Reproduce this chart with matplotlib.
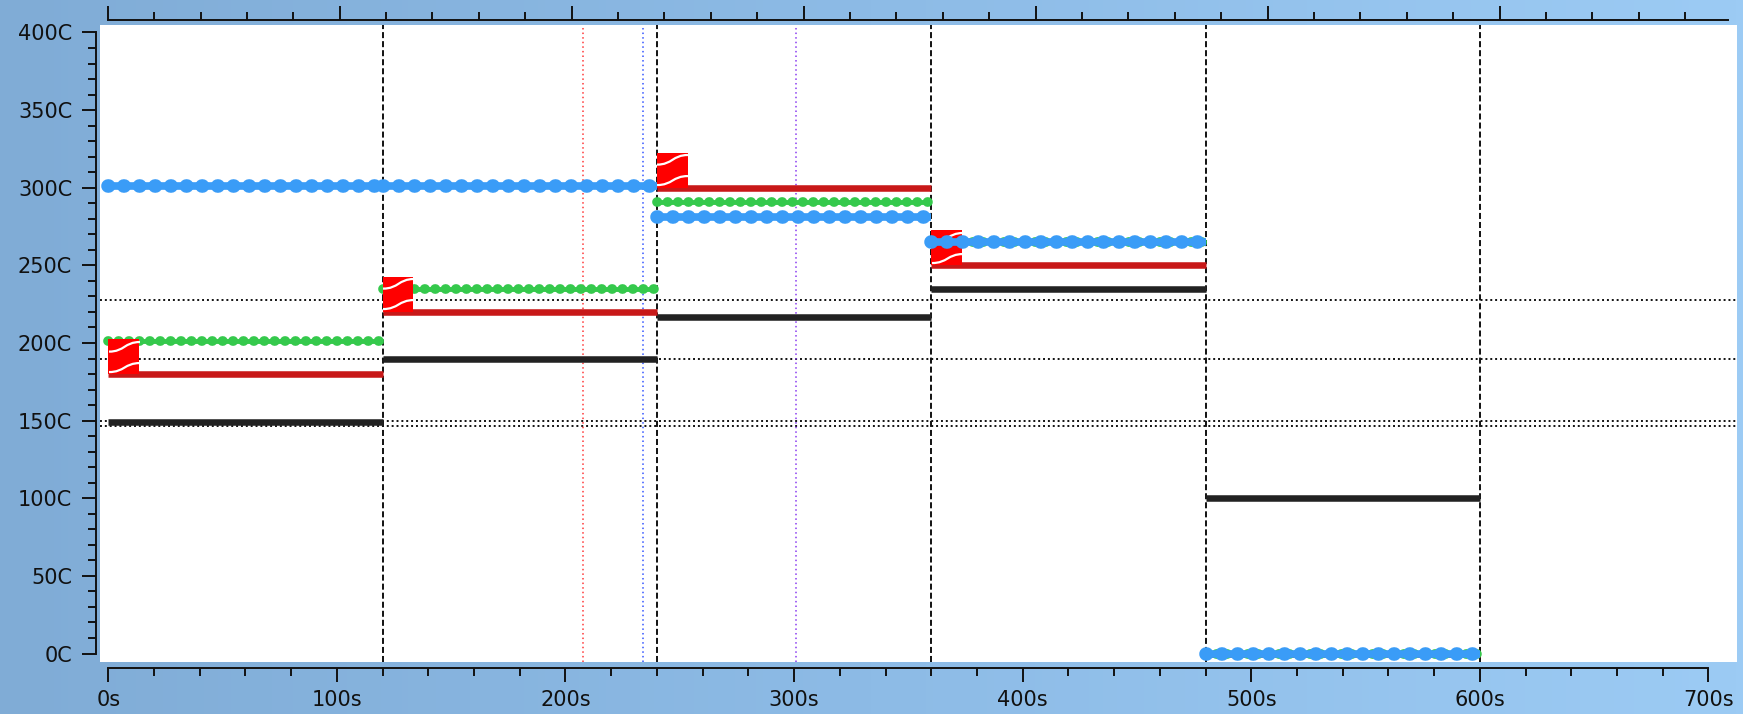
import numpy as np
import matplotlib
matplotlib.use('Agg')
import matplotlib.pyplot as plt
from matplotlib.colors import LinearSegmentedColormap
from matplotlib.path import Path
from matplotlib.ticker import MultipleLocator, FixedLocator, FuncFormatter, NullFormatter

# segment boundaries (s) and temperatures (C) per series
seg_start = [0, 120, 240, 360, 480]
seg_end = [120, 240, 360, 480, 600]
blue_temp = [301, 301, 281, 265, 0]
green_temp = [201, 235, 291, 265, 0]
red_temp = [180, 220, 300, 250, 0]
black_temp = [149, 190, 217, 235, 100]
ramp_segments = [0, 1, 2, 3]

# reference lines
h_levels = [228, 190, 150, 146.7]
v_markers = [207.5, 234, 301]
v_colors = ['#ff3838', '#3355ff', '#8a3cf0']

fig = plt.figure(figsize=(17.43, 7.14), dpi=100)

# blue gradient background
bg = fig.add_axes([0, 0, 1, 1], zorder=-5)
grad = np.linspace(0, 1, 256).reshape(1, -1)
bg.imshow(grad, aspect='auto', extent=[0, 1, 0, 1],
          cmap=LinearSegmentedColormap.from_list('bg', ['#80acd6', '#8dbbe6', '#9ccbf4']))
bg.axis('off')

ax = fig.add_axes([100 / 1743, 52 / 714, 1637 / 1743, 637 / 714])
ax.set_facecolor('white')
ax.set_xlim(-3.63, 712.5)
ax.set_ylim(-5.47, 404.8)

for x in seg_end:
    ax.axvline(x, color='#111111', lw=1.4, ls=(0, (3.1, 1.55)), zorder=1)
for y in h_levels:
    ax.axhline(y, color='#111111', lw=1.4, ls=(0, (1, 1.5)), zorder=1)
for x, c in zip(v_markers, v_colors):
    ax.axvline(x, color=c, lw=1.1, ls=(0, (1, 2)), zorder=1)

for s, e, v in zip(seg_start, seg_end, black_temp):
    ax.plot([s, e], [v, v], color='#222222', lw=4.7, solid_capstyle='butt', zorder=2)
for s, e, v in zip(seg_start, seg_end, red_temp):
    ax.plot([s, e], [v, v], color='#c81818', lw=4.7, solid_capstyle='butt', zorder=3)
for s, e, v in zip(seg_start, seg_end, green_temp):
    ax.plot([s, e], [v, v], color='#35c94c', lw=3.5, solid_capstyle='butt', zorder=4)
    ax.plot([s, e], [v, v], color='#35c94c', lw=7.0, ls=(0, (0.05, 1.02)),
            dash_capstyle='round', zorder=4)

# ramp boxes
ramp_w, ramp_h = 13.5, 22.5
rx = [seg_start[i] for i in ramp_segments]
ry = [red_temp[i] for i in ramp_segments]
ax.bar(rx, ramp_h, width=ramp_w, bottom=ry, align='edge', color='#ff0000', lw=0, zorder=5)
wave = Path([(-0.5, 0.19), (0.0, 0.19), (0.0, 0.5), (0.5, 0.5),
             (-0.5, -0.47), (0.0, -0.47), (0.0, -0.18), (0.5, -0.18)],
            [Path.MOVETO, Path.CURVE4, Path.CURVE4, Path.CURVE4,
             Path.MOVETO, Path.CURVE4, Path.CURVE4, Path.CURVE4])
ax.plot([x + ramp_w / 2 for x in rx], [y + ramp_h / 2 for y in ry], ls='none',
        marker=wave, ms=22.3, mfc='none', mec='white', mew=1.6, zorder=6)

for s, e, v in zip(seg_start, seg_end, blue_temp):
    ax.plot([s, e], [v, v], color='#3a9cf7', lw=5.5, solid_capstyle='butt', zorder=7)
    ax.plot([s, e], [v, v], color='#3a9cf7', lw=9.8, ls=(0, (0.05, 1.1)),
            dash_capstyle='round', zorder=7)

# axes styling
for side in ['top', 'right']:
    ax.spines[side].set_visible(False)
ax.spines['left'].set_position(('outward', 3))
ax.spines['bottom'].set_position(('outward', 4))
ax.spines['left'].set_bounds(0, 400)
ax.spines['bottom'].set_bounds(0, 700)
for side in ['left', 'bottom']:
    ax.spines[side].set_linewidth(1.4)
    ax.spines[side].set_color('#111111')

ax.xaxis.set_major_locator(MultipleLocator(100))
ax.xaxis.set_minor_locator(MultipleLocator(20))
ax.yaxis.set_major_locator(MultipleLocator(50))
ax.yaxis.set_minor_locator(MultipleLocator(10))
ax.xaxis.set_major_formatter(FuncFormatter(lambda v, p: f'{v:.0f}s'))
ax.yaxis.set_major_formatter(FuncFormatter(lambda v, p: f'{v:.0f}C'))
ax.tick_params(which='major', length=10, width=1.4, color='#111111', labelsize=15,
               labelcolor='#111111')
ax.tick_params(which='minor', length=5.5, width=1.4, color='#111111')
ax.tick_params(axis='y', which='major', pad=7)
ax.tick_params(axis='x', which='major', pad=6)

ax2 = ax.twiny()
ax2.set_xlim(-3.32, 702.3)
for side in ['left', 'right', 'bottom']:
    ax2.spines[side].set_visible(False)
ax2.spines['top'].set_position(('outward', 3.6))
ax2.spines['top'].set_bounds(0, 698.4)
ax2.spines['top'].set_linewidth(1.4)
ax2.spines['top'].set_color('#111111')
ax2.xaxis.set_major_locator(FixedLocator(np.arange(0, 700, 100)))
ax2.xaxis.set_minor_locator(FixedLocator([t for t in np.arange(0, 700, 20) if t % 100]))
ax2.xaxis.set_major_formatter(NullFormatter())
ax2.tick_params(which='major', length=10, width=1.4, color='#111111')
ax2.tick_params(which='minor', length=5.5, width=1.4, color='#111111')

fig.savefig('out.png', dpi=100)
